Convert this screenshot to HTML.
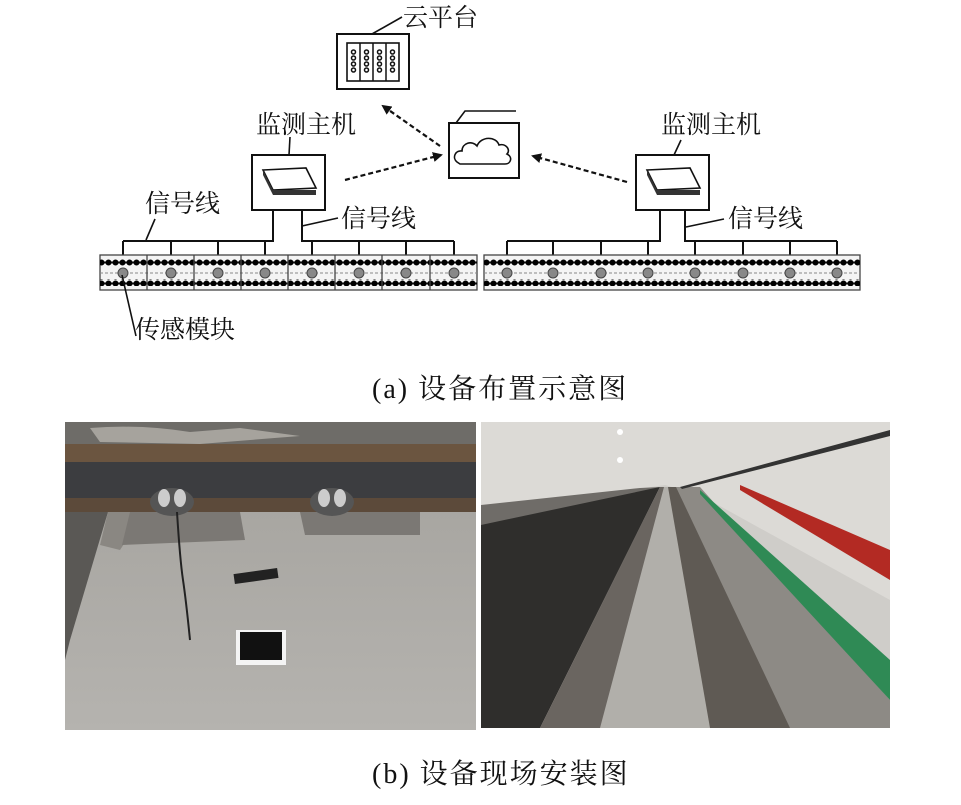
<!DOCTYPE html>
<html><head><meta charset="utf-8"><style>
html,body{margin:0;padding:0;background:#fff;}
svg{display:block}
text{font-family:"Liberation Serif","Noto Serif CJK SC",serif;fill:#111}
</style></head><body>
<svg width="961" height="805" viewBox="0 0 961 805" xmlns="http://www.w3.org/2000/svg">
<defs>
<pattern id="dots" x="0" y="0" width="7" height="7" patternUnits="userSpaceOnUse">
<line x1="0" y1="3.5" x2="7" y2="3.5" stroke="#111" stroke-width="2"/><circle cx="3.5" cy="3.5" r="3" fill="#000"/></pattern>
<marker id="ah" markerWidth="10" markerHeight="10" refX="8" refY="5" orient="auto" markerUnits="userSpaceOnUse"><path d="M0,0 L10,5 L0,10 Z" fill="#111"/></marker>
<linearGradient id="conc" x1="0" y1="0" x2="0" y2="1"><stop offset="0" stop-color="#a3a19c"/><stop offset="1" stop-color="#b5b3af"/></linearGradient>
</defs>

<text x="403" y="26" font-size="25">云平台</text>
<line x1="372" y1="34" x2="402" y2="17" stroke="#111" stroke-width="1.6"/>
<rect x="337" y="34" width="72" height="55" fill="#fff" stroke="#111" stroke-width="2"/>
<rect x="347" y="43" width="52" height="38" fill="#fff" stroke="#111" stroke-width="1.6"/>
<g fill="none" stroke="#111" stroke-width="1.5">
<line x1="360" y1="43" x2="360" y2="81"/><line x1="373" y1="43" x2="373" y2="81"/><line x1="386" y1="43" x2="386" y2="81"/>
<g id="col"><circle cx="353.5" cy="52" r="2"/><circle cx="353.5" cy="58" r="2"/><circle cx="353.5" cy="64" r="2"/><circle cx="353.5" cy="70" r="2"/></g>
<use href="#col" x="13"/><use href="#col" x="26"/><use href="#col" x="39"/>
</g>

<rect x="449" y="123" width="70" height="55" fill="#fff" stroke="#111" stroke-width="2"/>
<polyline points="456,123 465,111 516,111" fill="none" stroke="#111" stroke-width="1.6"/>
<path d="M457,162 C452,158 455,150 462,151 C462,143 472,140 477,146 C481,136 496,136 499,145 C506,143 511,150 507,154 C513,157 511,164 505,164 L460,164 Z" fill="none" stroke="#111" stroke-width="1.6"/>

<g stroke="#111" stroke-width="2.2" stroke-dasharray="5,3" fill="none">
<line x1="345" y1="180" x2="441" y2="155" marker-end="url(#ah)"/>
<line x1="440" y1="146" x2="383" y2="106" marker-end="url(#ah)"/>
<line x1="627" y1="182" x2="533" y2="156" marker-end="url(#ah)"/>
</g>

<text x="256" y="133" font-size="25">监测主机</text>
<line x1="289" y1="155" x2="290" y2="137" stroke="#111" stroke-width="1.6"/>
<rect x="252" y="155" width="73" height="55" fill="#fff" stroke="#111" stroke-width="2"/>
<g id="dev"><polygon points="263,170 306,168 316,188 273,190" fill="#fff" stroke="#111" stroke-width="1.6"/>
<polygon points="263,170 273,190 273,195 263,175" fill="#333"/>
<rect x="273" y="190" width="43" height="5" fill="#333"/></g>

<text x="661" y="133" font-size="25">监测主机</text>
<line x1="674" y1="155" x2="681" y2="140" stroke="#111" stroke-width="1.6"/>
<rect x="636" y="155" width="73" height="55" fill="#fff" stroke="#111" stroke-width="2"/>
<use href="#dev" x="384" y="0"/>

<text x="145" y="212" font-size="25">信号线</text>
<line x1="146" y1="240" x2="155" y2="219" stroke="#111" stroke-width="1.6"/>
<text x="341" y="227" font-size="25">信号线</text>
<line x1="302" y1="226" x2="338" y2="218" stroke="#111" stroke-width="1.6"/>
<text x="728" y="227" font-size="25">信号线</text>
<line x1="686" y1="227" x2="724" y2="219" stroke="#111" stroke-width="1.6"/>

<g stroke="#111" stroke-width="2" fill="none">
<polyline points="273,210 273,241 123,241"/>
<polyline points="302,210 302,241 454,241"/>
<line x1="123" y1="241" x2="123" y2="260"/><line x1="171" y1="241" x2="171" y2="260"/><line x1="218" y1="241" x2="218" y2="260"/><line x1="265" y1="241" x2="265" y2="260"/>
<line x1="312" y1="241" x2="312" y2="260"/><line x1="359" y1="241" x2="359" y2="260"/><line x1="406" y1="241" x2="406" y2="260"/><line x1="454" y1="241" x2="454" y2="260"/>
<polyline points="660,210 660,241 507,241"/>
<polyline points="685,210 685,241 837,241"/>
<line x1="507" y1="241" x2="507" y2="260"/><line x1="553" y1="241" x2="553" y2="260"/><line x1="601" y1="241" x2="601" y2="260"/><line x1="648" y1="241" x2="648" y2="260"/>
<line x1="695" y1="241" x2="695" y2="260"/><line x1="743" y1="241" x2="743" y2="260"/><line x1="790" y1="241" x2="790" y2="260"/><line x1="837" y1="241" x2="837" y2="260"/>
</g>

<g>
<rect x="100" y="255" width="377" height="35" fill="#f4f4f4" stroke="#444" stroke-width="1.3"/>
<rect x="100" y="259" width="377" height="7" fill="url(#dots)"/>
<rect x="100" y="279" width="377" height="7" fill="url(#dots)"/>
<line x1="100" y1="273" x2="477" y2="273" stroke="#888" stroke-dasharray="3,2"/>
<g stroke="#444" stroke-width="1.3"><line x1="147" y1="255" x2="147" y2="290"/><line x1="194" y1="255" x2="194" y2="290"/><line x1="241" y1="255" x2="241" y2="290"/><line x1="288" y1="255" x2="288" y2="290"/><line x1="335" y1="255" x2="335" y2="290"/><line x1="382" y1="255" x2="382" y2="290"/><line x1="430" y1="255" x2="430" y2="290"/></g>
<g fill="#888" stroke="#444"><circle cx="123" cy="273" r="5"/><circle cx="171" cy="273" r="5"/><circle cx="218" cy="273" r="5"/><circle cx="265" cy="273" r="5"/><circle cx="312" cy="273" r="5"/><circle cx="359" cy="273" r="5"/><circle cx="406" cy="273" r="5"/><circle cx="454" cy="273" r="5"/></g>

<rect x="484" y="255" width="376" height="35" fill="#f4f4f4" stroke="#444" stroke-width="1.3"/>
<rect x="484" y="259" width="376" height="7" fill="url(#dots)"/>
<rect x="484" y="279" width="376" height="7" fill="url(#dots)"/>
<line x1="484" y1="273" x2="860" y2="273" stroke="#888" stroke-dasharray="3,2"/>
<g fill="#888" stroke="#444"><circle cx="507" cy="273" r="5"/><circle cx="553" cy="273" r="5"/><circle cx="601" cy="273" r="5"/><circle cx="648" cy="273" r="5"/><circle cx="695" cy="273" r="5"/><circle cx="743" cy="273" r="5"/><circle cx="790" cy="273" r="5"/><circle cx="837" cy="273" r="5"/></g>
</g>

<text x="135" y="338" font-size="25">传感模块</text>
<line x1="122" y1="275" x2="136" y2="336" stroke="#111" stroke-width="1.6"/>

<text x="372" y="398" font-size="28" letter-spacing="2">(a) 设备布置示意图</text>

<g>
<rect x="65" y="422" width="411" height="308" fill="url(#conc)"/>
<rect x="65" y="422" width="411" height="24" fill="#6e6c68"/>
<path d="M90,428 Q140,424 190,432 L240,428 L300,436 L200,444 L100,442 Z" fill="#bdbab4" opacity="0.7"/>
<rect x="65" y="444" width="411" height="18" fill="#6b5540"/>
<rect x="65" y="462" width="411" height="36" fill="#3c3d40"/>
<rect x="65" y="498" width="411" height="14" fill="#5c4a3a"/>
<polygon points="65,512 108,512 70,640 65,660" fill="#5a5855"/>
<polygon points="108,512 145,512 120,550 100,545" fill="#8a8782"/>
<polygon points="130,512 240,512 245,540 122,545" fill="#7b7874"/>
<polygon points="300,512 420,512 420,535 305,535" fill="#7b7874"/>
<ellipse cx="172" cy="502" rx="22" ry="14" fill="#555"/><ellipse cx="332" cy="502" rx="22" ry="14" fill="#555"/>
<ellipse cx="164" cy="498" rx="6" ry="9" fill="#ccc"/><ellipse cx="180" cy="498" rx="6" ry="9" fill="#ccc"/>
<ellipse cx="324" cy="498" rx="6" ry="9" fill="#ccc"/><ellipse cx="340" cy="498" rx="6" ry="9" fill="#ccc"/>
<path d="M177,512 Q180,560 183,580 Q186,600 190,640" stroke="#222" stroke-width="2" fill="none"/>
<rect x="234" y="571" width="44" height="10" fill="#222" transform="rotate(-8 256 576)"/>
<rect x="236" y="630" width="50" height="35" fill="#f4f4f4"/>
<rect x="240" y="632" width="42" height="28" fill="#111"/>
</g>

<g>
<rect x="481" y="422" width="409" height="306" fill="#cfcdc9"/>
<polygon points="481,422 890,422 890,600 700,495 665,485 630,490 481,510" fill="#dcdad6"/>
<polygon points="481,505 640,488 660,487 481,560" fill="#6f6c68"/>
<polygon points="481,525 660,487 540,728 481,728" fill="#2f2e2c"/>
<polygon points="540,728 660,487 670,487 620,728" fill="#6a6560"/>
<polygon points="600,728 664,487 672,487 725,728" fill="#b1afaa"/>
<polygon points="710,728 668,487 678,487 810,728" fill="#5f5a54"/>
<polygon points="790,728 676,487 700,487 890,700 890,728" fill="#8d8a85"/>
<polygon points="740,485 890,550 890,580 740,490" fill="#b32a23"/>
<polygon points="700,490 890,660 890,700 700,494" fill="#2f8a55"/>
<polygon points="680,487 890,430 890,436 682,489" fill="#333"/>
<circle cx="620" cy="432" r="3" fill="#fff"/><circle cx="620" cy="460" r="3" fill="#fff"/>
</g>

<text x="372" y="783" font-size="28" letter-spacing="2">(b) 设备现场安装图</text>
</svg>
</body></html>
